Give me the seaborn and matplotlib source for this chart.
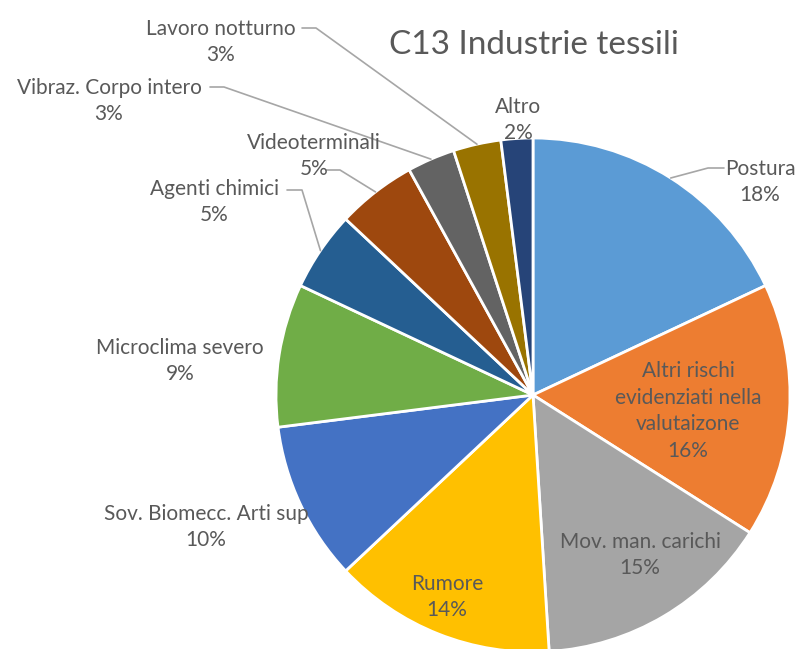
import numpy as np
import matplotlib
matplotlib.use("Agg")
import matplotlib.pyplot as plt
import seaborn as sns

# data
categories = ["Postura", "Altri rischi\nevidenziati nella\nvalutaizone", "Mov. man. carichi",
              "Rumore", "Sov. Biomecc. Arti sup", "Microclima severo", "Agenti chimici",
              "Videoterminali", "Vibraz. Corpo intero", "Lavoro notturno", "Altro"]
values = [18, 16, 15, 14, 10, 9, 5, 5, 3, 3, 2]
title = "C13 Industrie tessili"

colors = ["#5B9BD5", "#ED7D31", "#A5A5A5", "#FFC000", "#4472C4", "#70AD47",
          "#255E91", "#9E480E", "#636363", "#997300", "#264478"]

sns.set_theme(style="white")
plt.rcParams['font.family'] = ['Lato', 'DejaVu Sans']

W, H = 808, 649
fig = plt.figure(figsize=(W / 100, H / 100), dpi=100)
ax = fig.add_axes([0, 0, 1, 1])

cx, cy, R = 533, 395, 257  # pie center / radius in pixels (top-left origin)
ax.pie(values, colors=sns.color_palette(colors), startangle=90, counterclock=False,
       center=(cx, H - cy), radius=R,
       wedgeprops=dict(edgecolor="white", linewidth=2))
ax.set_xlim(0, W)
ax.set_ylim(0, H)
ax.set_aspect("equal")
ax.axis("off")

txt_col = "#595959"
line_col = "#a6a6a6"

# label positions (pixels, top-left origin), and leader start points
label_pos = {
    0: (760, 182),
    1: (688, 411),
    2: (640, 555),
    3: (447, 597),
    4: (206, 527),
    5: (180, 361),
    6: (214, 202),
    7: (314, 156),
    8: (109, 101),
    9: (221, 42),
    10: (518, 120),
}
leaders = {
    0: [(724, 168), (708, 168)],
    6: [(287, 190), (302, 190)],
    7: [(326, 170), (340, 170)],
    8: [(210, 87), (224, 87)],
    9: [(302, 28), (316, 28)],
}

total = sum(values)
cum = np.cumsum([0] + values)
for i, (name, v) in enumerate(zip(categories, values)):
    pct = v / total * 100
    x, y = label_pos[i]
    ax.text(x, H - y, "%s\n%d%%" % (name, round(pct)), ha="center", va="center",
            fontsize=15, color=txt_col, linespacing=1.4)
    if i in leaders:
        mid = (cum[i] + v / 2) / total * 360
        th = np.deg2rad(90 - mid)
        px, py = cx + R * np.cos(th), cy - R * np.sin(th)
        pts = leaders[i] + [(px, py)]
        ax.plot([p[0] for p in pts], [H - p[1] for p in pts], color=line_col, lw=1.2)

ax.text(534, H - 45, title, ha="center", va="center", fontsize=24, color=txt_col)

fig.savefig("out.png", dpi=100)
